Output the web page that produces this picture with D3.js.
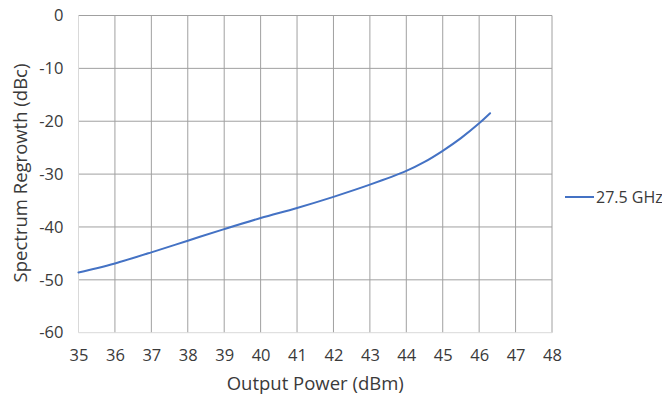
<!DOCTYPE html>
<html>
<head>
<meta charset="utf-8">
<script src="https://cdn.jsdelivr.net/npm/d3@7"></script>
<style>
  html, body { margin: 0; padding: 0; background: #fff; }
  svg { display: block; font-family: "Open Sans", "Liberation Sans", sans-serif; }
</style>
</head>
<body>
<svg id="chart" width="662" height="395"></svg>
<script>
// Spectrum regrowth vs. output power
const seriesName = "27.5 GHz";
const outputPower = [35, 35.5, 36, 37, 38, 39, 40, 41, 42, 43, 44, 44.5, 45, 45.5, 46, 46.3];
const regrowth    = [-48.6, -47.8, -46.9, -44.8, -42.6, -40.4, -38.3, -36.4, -34.3, -32.0, -29.4, -27.7, -25.6, -23.2, -20.4, -18.5];
const xTicks = [35, 36, 37, 38, 39, 40, 41, 42, 43, 44, 45, 46, 47, 48];
const yTicks = [0, -10, -20, -30, -40, -50, -60];

const svg = d3.select("#chart");
const plot = { left: 78.5, right: 552, top: 15.5, bottom: 332.7 };
const textColor = "#3a3a3a";

const x = d3.scaleLinear().domain([35, 48]).range([plot.left, plot.right]);
const y = d3.scaleLinear().domain([-60, 0]).range([plot.bottom, plot.top]);

const grid = svg.append("g");
// vertical gridlines
grid.selectAll("line.v").data(xTicks.slice(1)).join("line")
  .attr("x1", d => x(d)).attr("x2", d => x(d))
  .attr("y1", plot.top).attr("y2", plot.bottom)
  .attr("stroke", "#a0a0a0").attr("stroke-width", 1);
// horizontal gridlines
grid.selectAll("line.h").data(yTicks.slice(0, -1)).join("line")
  .attr("x1", plot.left).attr("x2", plot.right)
  .attr("y1", d => y(d)).attr("y2", d => y(d))
  .attr("stroke", "#a0a0a0").attr("stroke-width", 1);
// axis lines
grid.append("line").attr("x1", plot.left).attr("x2", plot.left).attr("y1", plot.top).attr("y2", plot.bottom)
  .attr("stroke", "#d9d9d9").attr("stroke-width", 1);
grid.append("line").attr("x1", plot.left).attr("x2", plot.right).attr("y1", plot.bottom).attr("y2", plot.bottom)
  .attr("stroke", "#d9d9d9").attr("stroke-width", 1);

// x axis labels
const xAxis = svg.append("g").attr("transform", `translate(0,${plot.bottom})`)
  .call(d3.axisBottom(x).tickValues(xTicks).tickSize(0).tickPadding(17).tickFormat(d => String(d)));
xAxis.select(".domain").remove();
xAxis.selectAll("text").attr("font-size", 16.5).attr("fill", textColor)
  .attr("font-family", "\"Open Sans\", sans-serif");

// y axis labels
const yAxis = svg.append("g").attr("transform", `translate(${plot.left},0)`)
  .call(d3.axisLeft(y).tickValues(yTicks).tickSize(0).tickPadding(15).tickFormat(d => String(d)));
yAxis.select(".domain").remove();
yAxis.selectAll("text").attr("font-size", 16.5).attr("fill", textColor)
  .attr("font-family", "\"Open Sans\", sans-serif");

// axis titles
svg.append("text").attr("x", (plot.left + plot.right) / 2).attr("y", 390)
  .attr("text-anchor", "middle").attr("font-size", 18.5).attr("fill", textColor)
  .text("Output Power (dBm)");
svg.append("text")
  .attr("transform", `translate(27,173) rotate(-90)`)
  .attr("text-anchor", "middle").attr("font-size", 18.5).attr("fill", textColor)
  .text("Spectrum Regrowth (dBc)");

// data line
const data = outputPower.map((p, i) => [p, regrowth[i]]);
svg.append("path").datum(data)
  .attr("fill", "none").attr("stroke", "#4472c4").attr("stroke-width", 2)
  .attr("stroke-linecap", "round")
  .attr("d", d3.line().x(d => x(d[0])).y(d => y(d[1])).curve(d3.curveCatmullRom));

// legend
const lg = svg.append("g").attr("transform", "translate(565,197)");
lg.append("line").attr("x1", 0).attr("x2", 29).attr("y1", 0).attr("y2", 0)
  .attr("stroke", "#4472c4").attr("stroke-width", 2);
lg.append("text").attr("x", 31).attr("y", 6).attr("font-size", 16).attr("fill", textColor)
  .text(seriesName);
</script>
</body>
</html>
